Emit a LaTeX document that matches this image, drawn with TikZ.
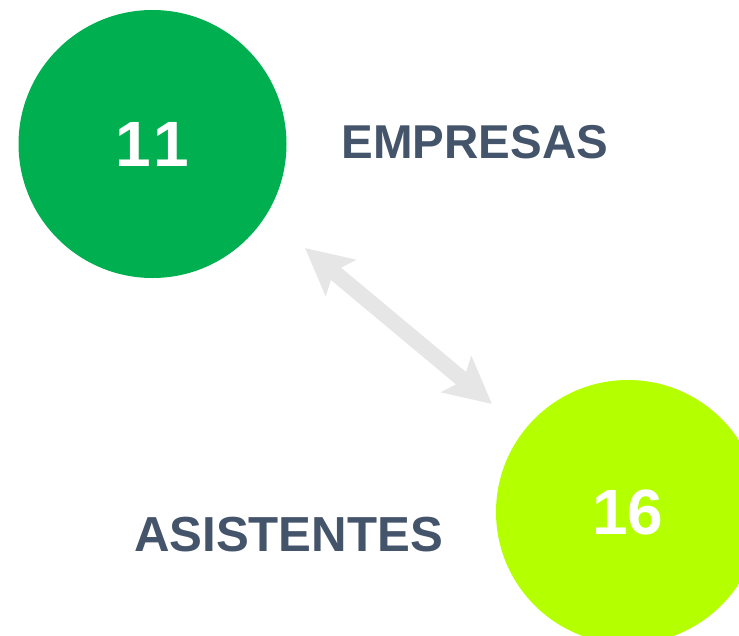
\documentclass[tikz,border=0pt]{standalone}
\usepackage{fontspec}
\setmainfont{Liberation Sans}
\usetikzlibrary{arrows.meta}
\definecolor{circgreen}{HTML}{00B050}
\definecolor{circlime}{HTML}{B4FF00}
\definecolor{arrowgray}{HTML}{E6E6E6}
\definecolor{labelslate}{HTML}{44546A}
\tikzset{
  numcircle/.style={circle, inner sep=0pt, minimum size=#1, text=white,
    font=\fontsize{64pt}{64pt}\selectfont\bfseries},
  labeltext/.style={text=labelslate, inner sep=0pt,
    font=\fontsize{#1}{#1}\selectfont\bfseries},
  linkarrow/.style={draw=arrowgray, line width=16pt,
    {Stealth[length=46pt, width=46pt, inset=9pt]}-{Stealth[length=46pt, width=46pt, inset=9pt]}}
}
\begin{document}
\begin{tikzpicture}[x=1pt, y=-1pt]
\useasboundingbox (0,0) rectangle (739,635);
\clip (0,0) rectangle (739,635);
\node[numcircle=268pt, fill=circgreen] (g) at (152.5,144) {1\kern2pt 1};
\node[numcircle=264pt, fill=circlime] (l) at (628,512) {16};
\node[labeltext=47.5pt] (emp) at (475,142) {EMPRESAS};
\node[labeltext=49.2pt] (asi) at (288.5,535) {ASISTENTES};
\coordinate (a1) at (305,248);
\coordinate (a2) at (492,404);
\draw[linkarrow] (a1) -- (a2);
\end{tikzpicture}
\end{document}
